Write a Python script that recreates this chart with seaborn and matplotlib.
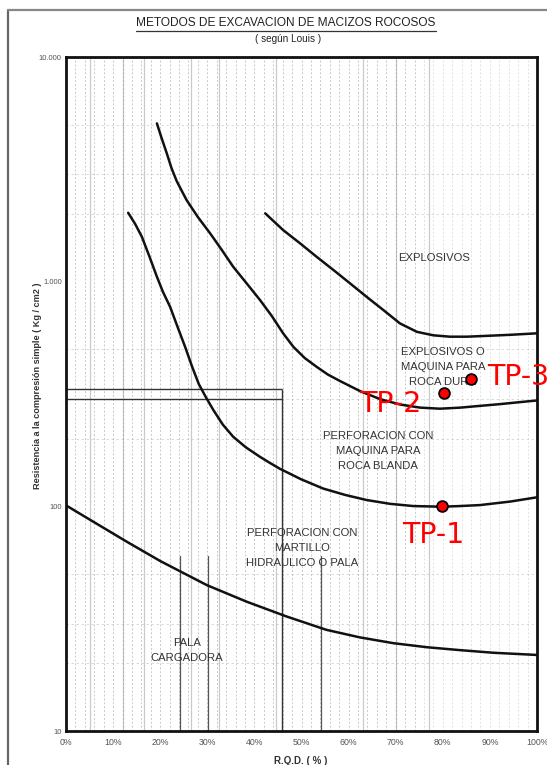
import numpy as np
import pandas as pd
import matplotlib
matplotlib.use("Agg")
import matplotlib.pyplot as plt
from matplotlib.lines import Line2D
from matplotlib.ticker import FixedLocator, NullFormatter
import seaborn as sns

# ---------------- data ----------------
# RQD (%) and uniaxial compressive strength (kg/cm2) along each boundary curve
pala_rqd = [0, 5.8, 12.9, 20.0, 29.9, 38.4, 46.9, 55.3, 62.4, 69.5, 76.6, 83.7, 90.7, 100]
pala_ucs = [101, 85.4, 69.6, 57.1, 44.6, 37.6, 32.3, 28.2, 26.1, 24.6, 23.6, 22.9, 22.3, 21.8]

martillo_rqd = [13.2, 14.7, 16.1, 17.6, 19.3, 20.6, 22.1, 23.7, 25.3, 26.8, 28.2, 29.7, 31.3,
                33.3, 35.5, 38.2, 41.2, 43.3, 45.4, 49.9, 54.6, 59.2, 63.8, 68.8, 73.7, 79.8,
                83.7, 87.9, 94.3, 100]
martillo_ucs = [2026, 1804, 1585, 1313, 1052, 899, 773, 628, 512, 417, 350, 306, 268,
                231, 204, 183, 166, 156, 147, 132, 120, 112.5, 106.7, 102.6, 100.3, 99.6,
                100.3, 101.3, 105, 109.7]

blanda_rqd = [19.3, 20.3, 21.4, 22.4, 23.5, 24.6, 25.6, 28.0, 30.6, 33.1, 35.5, 38.4, 41.2,
              43.7, 46.1, 48.3, 50.7, 53.2, 55.6, 58.2, 62.4, 66.7, 70.9, 75.2, 79.4, 83.7,
              87.9, 92.1, 96.4, 100]
blanda_ucs = [5063, 4355, 3724, 3203, 2804, 2531, 2308, 1939, 1641, 1382, 1165, 980, 828,
              703, 589, 512, 457, 418, 386, 361, 326, 300, 284, 275, 272, 275,
              280, 285, 291, 296]

dura_rqd = [42.3, 46.1, 49.7, 53.2, 56.8, 60.3, 63.8, 67.4, 70.9, 74.5, 78.0, 81.5, 85.1,
            88.6, 94.3, 100]
dura_ucs = [2014, 1697, 1481, 1291, 1126, 983, 857, 747, 652, 598, 577, 569, 569,
            573, 580, 589]

# rectangle drawn in the original chart
box_rqd_max = 45.9
box_ucs_upper = 333
box_ucs_lower = 300

# test points
tp_names = ["TP-1", "TP-2", "TP-3"]
tp_rqd = [79.8, 80.2, 85.9]
tp_ucs = [100.3, 318, 367]

x_ticks = [0, 10, 20, 30, 40, 50, 60, 70, 80, 90, 100]
x_tick_labels = ["0%", "10%", "20%", "30%", "40%", "50%", "60%", "70%", "80%", "90%", "100%"]
y_ticks = [10, 100, 1000, 10000]
y_tick_labels = ["10", "100", "1.000", "10.000"]

region_labels = ["EXPLOSIVOS",
                 "EXPLOSIVOS O\nMAQUINA PARA\nROCA DURA",
                 "PERFORACION CON\nMAQUINA PARA\nROCA BLANDA",
                 "PERFORACION CON\nMARTILLO\nHIDRAULICO O PALA",
                 "PALA\nCARGADORA"]
region_rqd = [78.1, 80.0, 66.2, 50.1, 25.7]
region_ucs = [1274, 417, 176, 65.2, 22.9]

# ---------------- figure ----------------
sns.set_style("white")
plt.rcParams["font.family"] = ["Liberation Sans", "DejaVu Sans"]

W, H = 547, 765
fig = plt.figure(figsize=(W / 100, H / 100), dpi=100)
ax = fig.add_axes([66 / W, 1 - 731 / H, (537 - 66) / W, (731 - 57) / H])

ax.set_yscale("log")
ax.set_xlim(0, 100)
ax.set_ylim(10, 10000)

# faint scanned-looking grid
for xv in np.arange(2, 100, 2.0):
    a = 0.55 if xv < 75 else 0.3
    ax.axvline(xv, color="#9a9a9a", lw=0.7, ls=(0, (2, 2)), alpha=a, zorder=0)
for xv in [5, 12, 16.5, 26.5, 32.5, 44.5, 63, 70, 77]:
    ax.axvline(xv, color="#8a8a8a", lw=0.9, ls="-", alpha=0.45, zorder=0)
for dec in [10, 100, 1000]:
    for m in [2, 3, 5]:
        ax.axhline(dec * m, color="#aaaaaa", lw=0.6, ls=(0, (3, 3)), alpha=0.5, zorder=0)
for xv in [24.2, 30.1, 54.1]:
    ax.axvline(xv, ymin=0, ymax=0.26, color="#555555", lw=0.9, zorder=1)

# boundary curves
curves = [(pala_rqd, pala_ucs, "pala"), (martillo_rqd, martillo_ucs, "martillo"),
          (blanda_rqd, blanda_ucs, "blanda"), (dura_rqd, dura_ucs, "dura")]
frames = []
for xs, ys, name in curves:
    frames.append(pd.DataFrame({"rqd": xs, "ucs": ys, "curve": name}))
df = pd.concat(frames, ignore_index=True)
sns.lineplot(data=df, x="rqd", y="ucs", units="curve", estimator=None, sort=False,
             color="#111111", lw=1.8, ax=ax, legend=False, zorder=3)
for ln in ax.get_lines():
    ln.set_solid_joinstyle("round")

# rectangle lines
ax.hlines([box_ucs_upper, box_ucs_lower], 0, box_rqd_max, color="#333333", lw=1.0, zorder=2)
ax.vlines(box_rqd_max, 10, box_ucs_upper, color="#333333", lw=1.0, zorder=2)

# test points
tp = pd.DataFrame({"rqd": tp_rqd, "ucs": tp_ucs, "name": tp_names})
sns.scatterplot(data=tp, x="rqd", y="ucs", color="#ff0000", edgecolor="black",
                linewidth=1.3, s=60, ax=ax, zorder=5, legend=False)
tp_offsets = [(-6.3, -20.9, "center"), (-16.3, -7.7, "right"), (11.7, 1.7, "left")]
for (xo, yo, ha), name, xv, yv in zip(tp_offsets, tp_names, tp_rqd, tp_ucs):
    ax.annotate(name, (xv, yv), xytext=(xo, yo), textcoords="offset points",
                ha=ha, va="center", color="#ff0000", fontsize=20.5,
                family="DejaVu Sans", zorder=6, annotation_clip=False)

# region labels
for xv, yv, lab in zip(region_rqd, region_ucs, region_labels):
    ax.text(xv, yv, lab, ha="center", va="center", fontsize=8.1, color="#333333",
            linespacing=1.6, zorder=4)

# axes styling
for s in ax.spines.values():
    s.set_color("#111111")
    s.set_linewidth(2.0)
ax.xaxis.set_major_locator(FixedLocator(x_ticks))
ax.set_xticklabels(x_tick_labels)
ax.yaxis.set_major_locator(FixedLocator(y_ticks))
ax.set_yticklabels(y_tick_labels)
ax.yaxis.set_minor_formatter(NullFormatter())
ax.tick_params(axis="both", which="both", length=0)
ax.tick_params(axis="x", labelsize=6.3, labelcolor="#555555", pad=5)
ax.tick_params(axis="y", labelsize=5.5, labelcolor="#555555", pad=3)
ax.set_xlabel("")
ax.set_ylabel("")
ax.grid(False)

fig.text(38 / W, 1 - 386 / H, "Resistencia a la compresión simple ( Kg / cm2 )",
         rotation=90, ha="center", va="center", fontsize=6.6, fontweight="bold", color="#333333")
fig.text(301 / W, 1 - 761 / H, "R.Q.D. ( % )", ha="center", va="center",
         fontsize=7, fontweight="bold", color="#333333")

# title and subtitle
t = fig.text(286 / W, 1 - 23 / H, "METODOS DE EXCAVACION DE MACIZOS ROCOSOS",
             ha="center", va="center", fontsize=8.6, color="#222222")
fig.text(288 / W, 1 - 39 / H, "( según Louis )", ha="center", va="center",
         fontsize=7.2, color="#222222")
fig.canvas.draw()
bb = t.get_window_extent()
fig.add_artist(Line2D([bb.x0 / W, bb.x1 / W], [(bb.y0 - 1.5) / H] * 2,
                      color="#333333", lw=0.9))

# scanned page frame
fig.add_artist(Line2D([8 / W, 8 / W], [0, 1 - 10 / H], color="#666666", lw=1.6))
fig.add_artist(Line2D([8 / W, 1], [1 - 10 / H, 1 - 10 / H], color="#888888", lw=1.6))

fig.savefig("out.png", dpi=100)
